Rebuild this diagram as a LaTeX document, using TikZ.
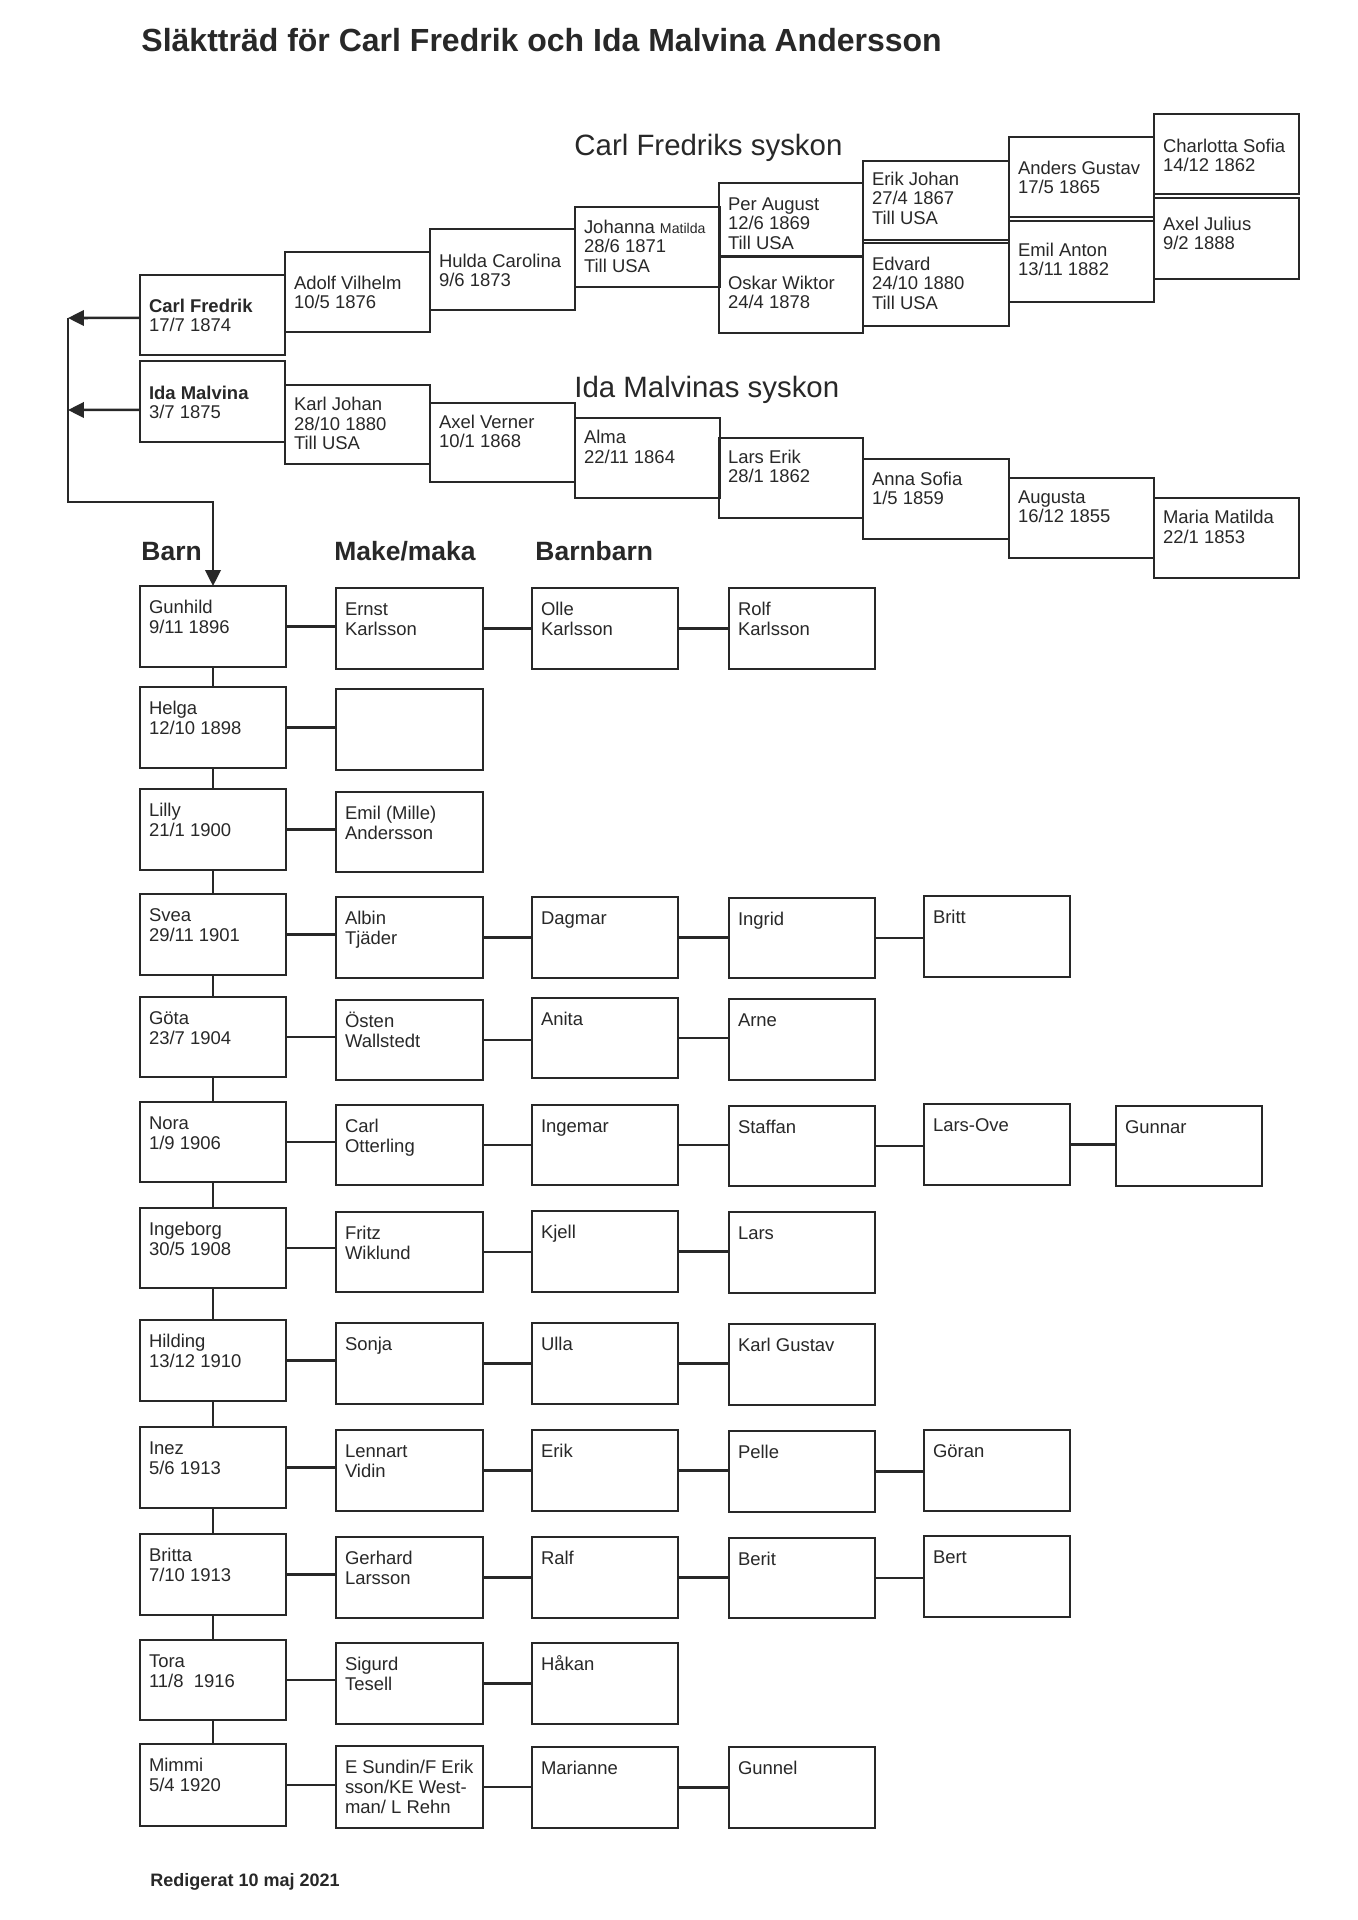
\documentclass[tikz,border=0pt]{standalone}
\usepackage{fontspec}
\setmainfont{Liberation Sans}
\usetikzlibrary{arrows.meta}
\definecolor{ink}{RGB}{40,40,40}
\newcommand\pxu{0.43868pt}
\newcommand\boxfont{\fontsize{8.1pt}{8.77pt}\selectfont}
\newcommand\bx[7]{%
 \pgfmathsetlengthmacro\bxh{(#5-#3)*\pxu}%
 \pgfmathsetlengthmacro\bxw{(#4-#2)*\pxu}%
 \pgfmathsetlengthmacro\bxtw{(#4-#2-18)*\pxu}%
 \pgfmathsetlengthmacro\bxb{(#6)*\pxu}%
 \node[pbox,minimum width=\bxw,minimum height=\bxh] (#1) at ({(#2+#4)/2},{(#3+#5)/2}) {\parbox[c][\bxh][t]{\bxtw}{\rule{0pt}{\bxb}#7}};}
\newcommand\hl[2]{\draw[conn] (#1.east) -- (#1.east -| #2.west);}
\tikzset{
 pbox/.style={draw=ink, line width=1.1pt, inner sep=0pt, outer sep=0pt, text=ink, font=\boxfont},
 conn/.style={draw=ink, line width=1.1pt},
 tip/.style={-{Triangle[length=7pt,width=6.8pt]}},
 head/.style={anchor=base west, inner sep=0pt, text=ink}
}
\begin{document}
\begin{tikzpicture}[x=0.43868pt, y=-0.43868pt]
\fill[white] (0,0) rectangle (1357,1920);
\useasboundingbox (0,0) rectangle (1357,1920);

% titles
\node[head, font=\fontsize{14.04pt}{16pt}\selectfont\bfseries] (title) at (141,51) {Släktträd för Carl Fredrik och Ida Malvina Andersson};
\node[head, font=\fontsize{12.9pt}{15pt}\selectfont] (cfsys) at (574,155) {Carl Fredriks syskon};
\node[head, font=\fontsize{12.9pt}{15pt}\selectfont] (imsys) at (574,397) {Ida Malvinas syskon};
\node[head, font=\fontsize{11.6pt}{14pt}\selectfont\bfseries] (hbarn) at (141,560) {Barn};
\node[head, font=\fontsize{11.6pt}{14pt}\selectfont\bfseries] (hmake) at (334,560) {Make/maka};
\node[head, font=\fontsize{11.6pt}{14pt}\selectfont\bfseries] (hbb) at (535,560) {Barnbarn};
\node[head, font=\fontsize{7.9pt}{9pt}\selectfont\bfseries] (redig) at (150,1886) {Redigerat 10 maj 2021};

% parents and siblings
\bx{cf}{140}{275}{285}{355}{37}{\textbf{Carl Fredrik}\\17/7 1874}
\bx{ida}{140}{361}{285}{442}{38}{\textbf{Ida Malvina}\\3/7 1875}
\bx{adolf}{285}{252}{430}{332}{37}{Adolf Vilhelm\\10/5 1876}
\bx{hulda}{430}{229}{575}{310}{38}{Hulda Carolina\\9/6 1873}
\bx{johanna}{575}{207}{720}{287}{26}{Johanna {\fontsize{6.2pt}{8.77pt}\selectfont Matilda}\\28/6 1871\\Till USA}
\bx{per}{719}{183}{863}{256}{27}{Per August\\12/6 1869\\Till USA}
\bx{oskar}{719}{257}{863}{333}{32}{Oskar Wiktor\\24/4 1878}
\bx{erikj}{863}{161}{1009}{240}{24}{Erik Johan\\27/4 1867\\Till USA}
\bx{edvard}{863}{243}{1009}{326}{27}{Edvard\\24/10 1880\\Till USA}
\bx{anders}{1009}{137}{1154}{217}{37}{Anders Gustav\\17/5 1865}
\bx{emila}{1009}{221}{1154}{302}{35}{Emil Anton\\13/11 1882}
\bx{charlotta}{1154}{114}{1299}{194}{38}{Charlotta Sofia\\14/12 1862}
\bx{axelj}{1154}{198}{1299}{279}{32}{Axel Julius\\9/2 1888}
\bx{karlj}{285}{385}{430}{464}{25}{Karl Johan\\28/10 1880\\Till USA}
\bx{axelv}{430}{403}{575}{482}{25}{Axel Verner\\10/1 1868}
\bx{alma}{575}{418}{720}{498}{25}{Alma\\22/11 1864}
\bx{larse}{719}{438}{863}{518}{25}{Lars Erik\\28/1 1862}
\bx{annas}{863}{459}{1009}{539}{26}{Anna Sofia\\1/5 1859}
\bx{augusta}{1009}{478}{1154}{558}{25}{Augusta\\16/12 1855}
\bx{maria}{1154}{498}{1299}{578}{25}{Maria Matilda\\22/1 1853}

% children rows
\bx{gun}{140}{586}{286}{667}{27}{Gunhild\\9/11 1896}
\bx{ernst}{336}{588}{483}{669}{27}{Ernst\\Karlsson}
\bx{olle}{532}{588}{678}{669}{27}{Olle\\Karlsson}
\bx{rolf}{729}{588}{875}{669}{27}{Rolf\\Karlsson}

\bx{helga}{140}{687}{286}{768}{27}{Helga\\12/10 1898}
\bx{helgasp}{336}{689}{483}{770}{27}{}

\bx{lilly}{140}{789}{286}{870}{27}{Lilly\\21/1 1900}
\bx{emilm}{336}{792}{483}{872}{27}{Emil (Mille)\\Andersson}

\bx{svea}{140}{894}{286}{975}{27}{Svea\\29/11 1901}
\bx{albin}{336}{897}{483}{978}{27}{Albin\\Tjäder}
\bx{dagmar}{532}{897}{678}{978}{27}{Dagmar}
\bx{ingrid}{729}{898}{875}{978}{27}{Ingrid}
\bx{britt}{924}{896}{1070}{977}{27}{Britt}

\bx{gota}{140}{997}{286}{1077}{27}{Göta\\23/7 1904}
\bx{osten}{336}{1000}{483}{1080}{27}{Östen\\Wallstedt}
\bx{anita}{532}{998}{678}{1078}{27}{Anita}
\bx{arne}{729}{999}{875}{1080}{27}{Arne}

\bx{nora}{140}{1102}{286}{1182}{27}{Nora\\1/9 1906}
\bx{carlo}{336}{1105}{483}{1185}{27}{Carl\\Otterling}
\bx{ingemar}{532}{1105}{678}{1185}{27}{Ingemar}
\bx{staffan}{729}{1106}{875}{1186}{27}{Staffan}
\bx{larsove}{924}{1104}{1070}{1185}{27}{Lars-Ove}
\bx{gunnar}{1116}{1106}{1262}{1186}{27}{Gunnar}

\bx{ingeborg}{140}{1208}{286}{1288}{27}{Ingeborg\\30/5 1908}
\bx{fritz}{336}{1212}{483}{1292}{27}{Fritz\\Wiklund}
\bx{kjell}{532}{1211}{678}{1292}{27}{Kjell}
\bx{lars}{729}{1212}{875}{1293}{27}{Lars}

\bx{hilding}{140}{1320}{286}{1401}{27}{Hilding\\13/12 1910}
\bx{sonja}{336}{1323}{483}{1404}{27}{Sonja}
\bx{ulla}{532}{1323}{678}{1404}{27}{Ulla}
\bx{karlg}{729}{1324}{875}{1405}{27}{Karl Gustav}

\bx{inez}{140}{1427}{286}{1508}{27}{Inez\\5/6 1913}
\bx{lennart}{336}{1430}{483}{1511}{27}{Lennart\\Vidin}
\bx{erikg}{532}{1430}{678}{1511}{27}{Erik}
\bx{pelle}{729}{1431}{875}{1512}{27}{Pelle}
\bx{goran}{924}{1430}{1070}{1511}{27}{Göran}

\bx{britta}{140}{1534}{286}{1615}{27}{Britta\\7/10 1913}
\bx{gerhard}{336}{1537}{483}{1618}{27}{Gerhard\\Larsson}
\bx{ralf}{532}{1537}{678}{1618}{27}{Ralf}
\bx{berit}{729}{1538}{875}{1618}{27}{Berit}
\bx{bert}{924}{1536}{1070}{1617}{27}{Bert}

\bx{tora}{140}{1640}{286}{1720}{27}{Tora\\11/8~~1916}
\bx{sigurd}{336}{1643}{483}{1724}{27}{Sigurd\\Tesell}
\bx{hakan}{532}{1643}{678}{1724}{27}{Håkan}

\bx{mimmi}{140}{1744}{286}{1826}{27}{Mimmi\\5/4 1920}
\bx{esund}{336}{1746}{483}{1828}{27}{E Sundin/F Erik\\sson/KE West-\\man/ L Rehn}
\bx{marianne}{532}{1747}{678}{1828}{27}{Marianne}
\bx{gunnel}{729}{1747}{875}{1828}{27}{Gunnel}

% arrows from parents to children
\coordinate (tipa) at (68,318);
\coordinate (tipb) at (68,410);
\coordinate (corner) at (213,502);
\draw[conn,tip] ([yshift=-1.3pt]cf.west) -- (tipa);
\draw[conn,tip] ([yshift=-3.7pt]ida.west) -- (tipb);
\draw[conn,tip] (tipa) |- (corner) -- (gun.north);

% vertical line between children
\foreach \a/\b in {gun/helga, helga/lilly, lilly/svea, svea/gota, gota/nora, nora/ingeborg, ingeborg/hilding, hilding/inez, inez/britta, britta/tora, tora/mimmi}
  \draw[conn] (\a.south) -- (\b.north);

% horizontal connectors
\hl{gun}{ernst}\hl{ernst}{olle}\hl{olle}{rolf}
\hl{helga}{helgasp}
\hl{lilly}{emilm}
\hl{svea}{albin}\hl{albin}{dagmar}\hl{dagmar}{ingrid}\hl{ingrid}{britt}
\hl{gota}{osten}\hl{osten}{anita}\hl{anita}{arne}
\hl{nora}{carlo}\hl{carlo}{ingemar}\hl{ingemar}{staffan}\hl{staffan}{larsove}\hl{larsove}{gunnar}
\hl{ingeborg}{fritz}\hl{fritz}{kjell}\hl{kjell}{lars}
\hl{hilding}{sonja}\hl{sonja}{ulla}\hl{ulla}{karlg}
\hl{inez}{lennart}\hl{lennart}{erikg}\hl{erikg}{pelle}\hl{pelle}{goran}
\hl{britta}{gerhard}\hl{gerhard}{ralf}\hl{ralf}{berit}\hl{berit}{bert}
\hl{tora}{sigurd}\hl{sigurd}{hakan}
\hl{mimmi}{esund}\hl{esund}{marianne}\hl{marianne}{gunnel}
\end{tikzpicture}
\end{document}
